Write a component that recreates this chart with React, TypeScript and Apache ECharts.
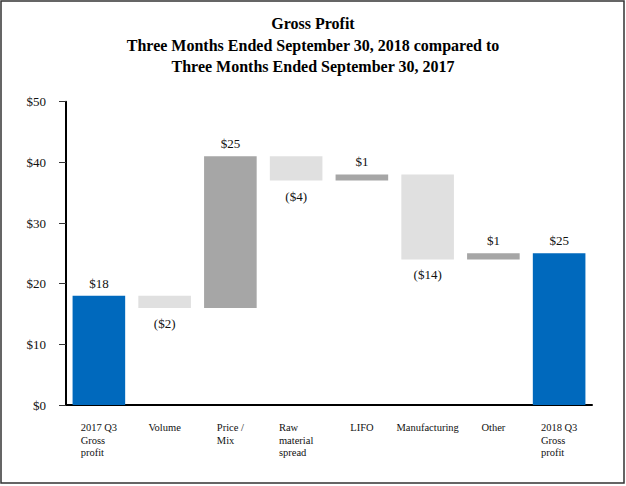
import React, { useEffect, useRef } from "react";
import * as echarts from "echarts";

const categories = [
  "2017 Q3\nGross\nprofit",
  "Volume",
  "Price /\nMix",
  "Raw\nmaterial\nspread",
  "LIFO",
  "Manufacturing",
  "Other",
  "2018 Q3\nGross\nprofit",
];
// amount of each step (totals are absolute values)
const amounts = [18, -2, 25, -4, 1, -14, 1, 25];
const kinds = ["total", "delta", "delta", "delta", "delta", "delta", "delta", "total"];
const yTicks = [0, 10, 20, 30, 40, 50];
const titleLines = [
  "Gross Profit",
  "Three Months Ended September 30, 2018 compared to",
  "Three Months Ended September 30, 2017",
];

const BLUE = "#0069BD";
const DARK = "#A6A6A6";
const LIGHT = "#E0E0E0";
const FONT = "'Liberation Serif', 'Times New Roman', serif";

function fmt(v: number) {
  return v < 0 ? `($${-v})` : `$${v}`;
}

export default function App() {
  const ref = useRef<HTMLDivElement>(null);
  useEffect(() => {
    if (!ref.current) return;
    const chart = echarts.init(ref.current, null, { renderer: "svg" });
    let running = 0;
    const base: number[] = [];
    const bars: any[] = [];
    amounts.forEach((a, i) => {
      if (kinds[i] === "total") {
        base.push(0);
        running = a;
        bars.push({
          value: a,
          itemStyle: { color: BLUE },
          label: { position: "top", distance: 6 },
        });
      } else {
        const next = running + a;
        base.push(Math.min(running, next));
        bars.push({
          value: Math.abs(a),
          itemStyle: { color: a < 0 ? LIGHT : DARK },
          label: { position: a < 0 ? "bottom" : "top", distance: a < 0 ? 9 : 6 },
        });
        running = next;
      }
    });
    chart.setOption({
      animation: false,
      backgroundColor: "#ffffff",
      graphic: [
        {
          type: "rect",
          shape: { x: 1, y: 1, width: 623, height: 482 },
          style: { fill: "none", stroke: "#333", lineWidth: 1.5 },
          silent: true,
        },
        ...titleLines.map((t, i) => ({
          type: "text",
          x: 313,
          y: 31.5 + i * 21.5,
          silent: true,
          style: {
            text: t,
            textAlign: "center",
            textVerticalAlign: "bottom",
            fontFamily: FONT,
            fontWeight: "bold",
            fontSize: 16,
            fill: "#000",
          },
        })),
      ],
      grid: { left: 66, right: 34, top: 101.7, bottom: 81, containLabel: false },
      xAxis: {
        type: "category",
        data: categories,
        axisLine: { lineStyle: { color: "#000", width: 2 } },
        axisTick: { alignWithLabel: true, length: 6, lineStyle: { color: "#555" } },
        axisLabel: {
          interval: 0,
          margin: 16,
          color: "#111",
          formatter: (v: string) =>
            v
              .split("\n")
              .map((l) => `{a|${l}}`)
              .join("\n"),
          rich: {
            a: {
              fontFamily: FONT,
              fontSize: 10.5,
              lineHeight: 12.7,
              color: "#111",
              align: "left",
            },
          },
        },
      },
      yAxis: {
        type: "value",
        min: yTicks[0],
        max: yTicks[yTicks.length - 1],
        interval: 10,
        splitLine: { show: false },
        axisLine: { show: true, lineStyle: { color: "#000", width: 2 } },
        axisTick: { show: true, length: 7, lineStyle: { color: "#333" } },
        axisLabel: {
          margin: 20,
          fontFamily: FONT,
          fontSize: 13,
          color: "#111",
          formatter: (v: number) => `$${v}`,
        },
      },
      series: [
        {
          type: "bar",
          stack: "w",
          data: base,
          itemStyle: { color: "transparent" },
          barCategoryGap: "20%",
          silent: true,
        },
        {
          type: "bar",
          stack: "w",
          data: bars,
          barCategoryGap: "20%",
          label: {
            show: true,
            fontFamily: FONT,
            fontSize: 13,
            color: "#111",
            formatter: (p: any) => fmt(amounts[p.dataIndex]),
          },
        },
      ],
    });
    return () => chart.dispose();
  }, []);
  return (
    <div
      ref={ref}
      style={{ position: "fixed", left: 0, top: 0, width: 626, height: 486 }}
    />
  );
}
